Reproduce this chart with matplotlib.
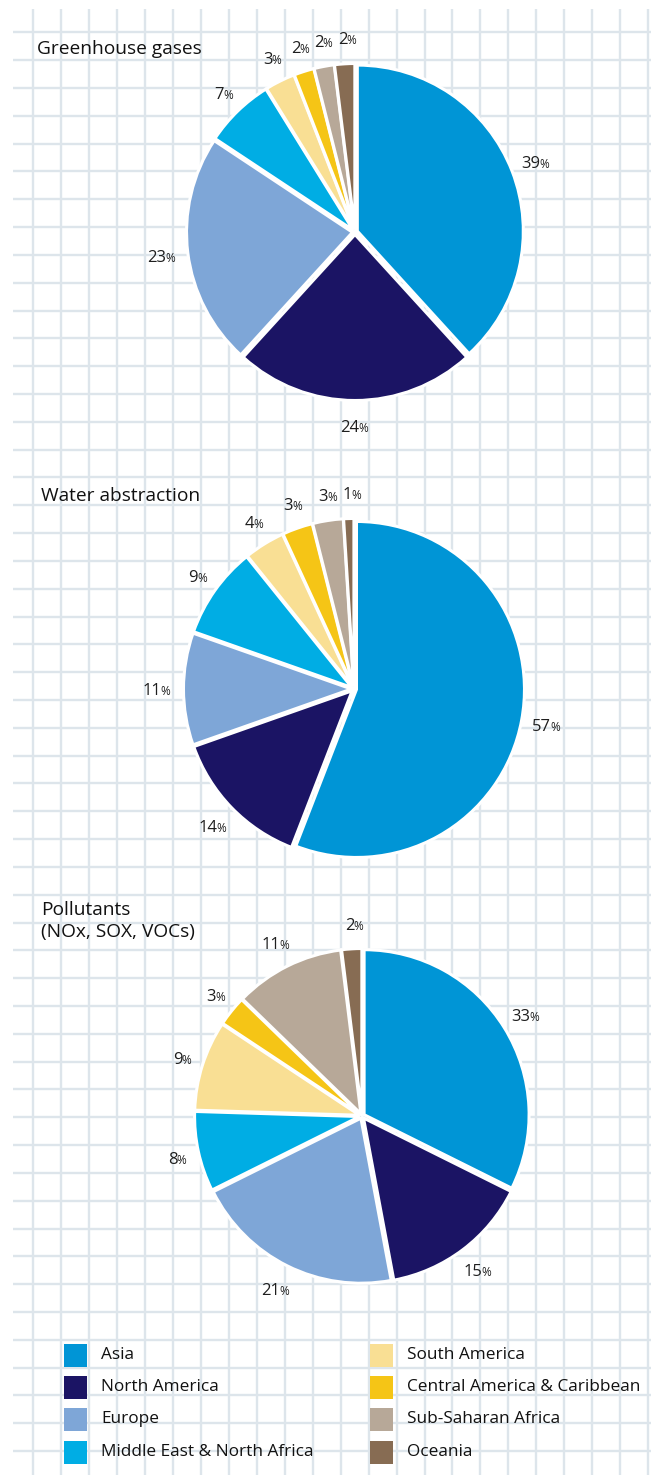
import numpy as np
import matplotlib
matplotlib.use("Agg")
import matplotlib.pyplot as plt
from matplotlib.patches import Rectangle

plt.rcParams["font.family"] = ["Open Sans", "DejaVu Sans"]

# ---------------------------------------------------------------------------
# Donnees
# ---------------------------------------------------------------------------
regions = ["Asia", "North America", "Europe", "Middle East & North Africa",
           "South America", "Central America & Caribbean",
           "Sub-Saharan Africa", "Oceania"]
colors = ["#0095d6", "#1b1464", "#7ea6d7", "#00ade4",
          "#f9df94", "#f5c516", "#b7a898", "#876c53"]

greenhouse = [39, 24, 23, 7, 3, 2, 2, 2]
water = [57, 14, 11, 9, 4, 3, 3, 1]
pollutants = [33, 15, 21, 8, 9, 3, 11, 2]

titles = ["Greenhouse gases", "Water abstraction", "Pollutants\n(NOx, SOX, VOCs)"]

# ---------------------------------------------------------------------------
# Figure et quadrillage de fond
# ---------------------------------------------------------------------------
W, H = 651, 1475
fig = plt.figure(figsize=(W / 100, H / 100), dpi=100)
fig.patch.set_facecolor("white")

bg = fig.add_axes([0, 0, 1, 1])
bg.set_xlim(0, W)
bg.set_ylim(H, 0)
bg.axis("off")

grid_color = "#dde5eb"
xs = 33.2 + 27.95 * np.arange(23)
ys = 32.3 + 27.82 * np.arange(52)
bg.vlines(xs, 9, H, color=grid_color, lw=1.7, zorder=0)
bg.hlines(ys, 13, W, color=grid_color, lw=1.7, zorder=0)

# ---------------------------------------------------------------------------
# Camemberts
# ---------------------------------------------------------------------------
PAD = 1.45


def draw_pie(values, cx, cy, r):
    ax = fig.add_axes([(cx - PAD * r) / W, 1 - (cy + PAD * r) / H,
                       2 * PAD * r / W, 2 * PAD * r / H])
    wedges, _ = ax.pie(values, colors=colors, startangle=90, counterclock=False,
                       explode=[0.015] * len(values),
                       wedgeprops=dict(edgecolor="white", linewidth=2.2))
    # ax.pie remet ses propres limites, on les fixe apres
    ax.set_xlim(-PAD, PAD)
    ax.set_ylim(-PAD, PAD)
    ax.axis("off")
    for w, v in zip(wedges, values):
        ang = np.deg2rad((w.theta1 + w.theta2) / 2)
        x, y = 1.17 * np.cos(ang), 1.17 * np.sin(ang)
        ax.annotate(str(v), (x, y), xytext=(3.0, -4.5), textcoords="offset points",
                    ha="right", va="baseline", fontsize=12, color="#1e1e1e")
        ax.annotate("%", (x, y), xytext=(2.4, -4.5), textcoords="offset points",
                    ha="left", va="baseline", fontsize=8.5, color="#1e1e1e")
    return ax


draw_pie(greenhouse, 355, 232, 166)
draw_pie(water, 354, 689, 168)
draw_pie(pollutants, 362, 1116, 165)

# Titres
bg.text(37, 54, titles[0], fontsize=13.8, color="#111111", va="baseline")
bg.text(41, 501, titles[1], fontsize=13.8, color="#111111", va="baseline")
bg.text(41, 937, titles[2], fontsize=13.8, color="#111111", va="baseline",
        linespacing=1.3)

# ---------------------------------------------------------------------------
# Legende
# ---------------------------------------------------------------------------
row_y = [1355, 1387, 1419, 1452]
for i, (name, col) in enumerate(zip(regions, colors)):
    colx = 64 if i < 4 else 370
    yy = row_y[i % 4]
    bg.add_patch(Rectangle((colx, yy - 11.5), 23, 23, facecolor=col,
                           edgecolor="none", zorder=2))
    bg.text(colx + 37, yy, name, fontsize=12.4, color="#111111",
            va="center", ha="left")

fig.savefig("out.png", dpi=100, facecolor="white")
